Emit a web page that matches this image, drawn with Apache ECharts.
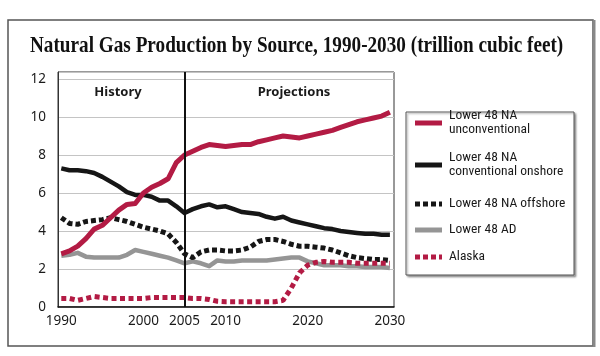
<!DOCTYPE html>
<html><head><meta charset="utf-8">
<script src="https://cdn.jsdelivr.net/npm/echarts@6/dist/echarts.min.js"></script>
<style>html,body{margin:0;padding:0;background:#fff}#c{width:600px;height:356px}</style>
</head><body><div id="c"></div>
<script>
var years = [];
for (var y = 1990; y <= 2030; y++) years.push(y);
var xTickLabels = [1990, 2000, 2005, 2010, 2020, 2030];
var yTickLabels = [0, 2, 4, 6, 8, 10, 12];
var seriesNames = ['Lower 48 NA unconventional','Lower 48 NA conventional onshore','Lower 48 NA offshore','Lower 48 AD','Alaska'];
var unconventional = [2.8,2.95,3.2,3.6,4.1,4.3,4.7,5.1,5.4,5.45,6.0,6.3,6.5,6.75,7.6,8.0,8.2,8.4,8.55,8.5,8.45,8.5,8.55,8.55,8.7,8.8,8.9,9.0,8.95,8.9,9.0,9.1,9.2,9.3,9.45,9.6,9.75,9.85,9.95,10.05,10.25];
var onshore = [7.3,7.2,7.2,7.15,7.05,6.85,6.6,6.35,6.05,5.9,5.9,5.8,5.6,5.6,5.3,4.95,5.15,5.3,5.4,5.25,5.3,5.15,5.0,4.95,4.9,4.75,4.65,4.75,4.55,4.45,4.35,4.25,4.15,4.1,4.0,3.95,3.9,3.85,3.85,3.8,3.8];
var offshore = [4.7,4.4,4.35,4.5,4.55,4.6,4.7,4.6,4.5,4.35,4.2,4.1,4.0,3.85,3.4,2.8,2.6,2.9,3.0,3.0,2.95,2.95,3.0,3.15,3.45,3.55,3.55,3.45,3.3,3.2,3.2,3.15,3.1,3.0,2.85,2.7,2.6,2.55,2.5,2.5,2.45];
var lowerAD = [2.7,2.75,2.85,2.65,2.6,2.6,2.6,2.6,2.75,3.0,2.9,2.8,2.7,2.6,2.45,2.3,2.4,2.3,2.15,2.45,2.4,2.4,2.45,2.45,2.45,2.45,2.5,2.55,2.6,2.6,2.4,2.3,2.2,2.2,2.2,2.15,2.15,2.1,2.1,2.1,2.05];
var alaska = [0.45,0.45,0.35,0.45,0.55,0.5,0.45,0.45,0.45,0.45,0.45,0.5,0.5,0.5,0.5,0.5,0.45,0.45,0.4,0.3,0.28,0.28,0.28,0.28,0.28,0.28,0.28,0.35,1.0,1.8,2.2,2.35,2.4,2.35,2.35,2.35,2.3,2.3,2.3,2.3,2.3];
var splitYear = 2005;

function pairs(vals){ return years.map(function(yr,i){ return [yr, vals[i]]; }); }
var RED = '#b31b44', BLACK = '#161616', GRAY = '#959595';
var FONT = 'Noto Sans';
var LFONT = "'Roboto Condensed', Roboto";
var DOTS = 'path://M0,0h5v5h-5zM8,0h5v5h-5zM16,0h5v5h-5zM24,0h3v5h-3z';

function mkLegend(name, top, twoLine, icon, color){
  return {
    data: [{ name: name, icon: icon, itemStyle: { color: color } }], orient: 'vertical', left: 415, top: top,
    itemWidth: 27, itemHeight: 5, padding: 0, selectedMode: false,
    formatter: function(n){
      if (n === seriesNames[0]) return 'Lower 48 NA\nunconventional';
      if (n === seriesNames[1]) return 'Lower 48 NA\nconventional onshore';
      return n;
    },
    textStyle: { fontFamily: LFONT, fontSize: 13.5, color: '#1a1a1a', lineHeight: 14,
      padding: twoLine ? [14, 0, 0, 2] : [0, 0, 0, 2] }
  };
}

var chart = echarts.init(document.getElementById('c'), null, {renderer: 'canvas'});
chart.setOption({
  animation: false,
  backgroundColor: '#fff',
  grid: { left: 58, top: 72, width: 336, height: 235, show: true, borderColor: '#333', borderWidth: 1, containLabel: false },
  xAxis: {
    type: 'value', min: 1989.6, max: 2030.5,
    axisLine: { show: true, lineStyle: { color: '#111', width: 1.5 } },
    axisTick: { show: false }, splitLine: { show: false },
    axisLabel: { customValues: xTickLabels, fontFamily: FONT, fontSize: 13.5, color: '#1a1a1a', margin: 7,
      formatter: function(v){ return String(v); } }
  },
  yAxis: {
    type: 'value', min: 0, max: 12.37, interval: 2,
    axisLine: { show: true, lineStyle: { color: '#333', width: 1 } },
    axisTick: { show: false },
    splitLine: { show: true, lineStyle: { color: '#c4c4c4', width: 1.2 } },
    axisLabel: { fontFamily: FONT, fontSize: 13.5, color: '#1a1a1a', margin: 12,
      formatter: function(v){ return yTickLabels.indexOf(v) >= 0 ? String(v) : ''; } }
  },
  legend: [
    mkLegend(seriesNames[0], 102, true, 'rect', RED),
    mkLegend(seriesNames[1], 144, true, 'rect', BLACK),
    mkLegend(seriesNames[2], 197, false, DOTS, BLACK),
    mkLegend(seriesNames[3], 223, false, 'rect', GRAY),
    mkLegend(seriesNames[4], 250, false, DOTS, RED)
  ],
  graphic: [
    { type: 'rect', shape: { x: 8, y: 20, width: 585, height: 326 }, style: { fill: 'none', stroke: '#555', lineWidth: 1.5 }, z: 0 },
    { type: 'line', shape: { x1: 594, y1: 20, x2: 594, y2: 347 }, style: { stroke: '#888', lineWidth: 3 }, z: 0 },
    { type: 'rect', shape: { x: 406, y: 112, width: 168, height: 163 }, style: { fill: '#fff', stroke: '#555', lineWidth: 1, shadowColor: 'rgba(0,0,0,0.35)', shadowBlur: 2, shadowOffsetX: 1.5, shadowOffsetY: 1.5 }, z: -1 },
    { type: 'text', left: 30, top: 35, scaleX: 0.835, style: { text: 'Natural Gas Production by Source, 1990-2030 (trillion cubic feet)', fontFamily: 'Liberation Serif', fontWeight: 'bold', fontSize: 23, fill: '#111' } },
    { type: 'text', x: 118, y: 92, style: { text: 'History', fontFamily: FONT, fontWeight: 'bold', fontSize: 13, fill: '#1a1a1a', align: 'center', verticalAlign: 'middle' } },
    { type: 'text', x: 294, y: 92, style: { text: 'Projections', fontFamily: FONT, fontWeight: 'bold', fontSize: 13, fill: '#1a1a1a', align: 'center', verticalAlign: 'middle' } }
  ],
  series: [
    { name: seriesNames[3], type: 'line', data: pairs(lowerAD), symbol: 'none', z: 2,
      lineStyle: { color: GRAY, width: 4.5, join: 'round' }, itemStyle: { color: GRAY } },
    { name: seriesNames[2], type: 'line', data: pairs(offshore), symbol: 'none', z: 3,
      lineStyle: { color: BLACK, width: 5, type: [5, 3], cap: 'butt' }, itemStyle: { color: BLACK } },
    { name: seriesNames[1], type: 'line', data: pairs(onshore), symbol: 'none', z: 3,
      lineStyle: { color: BLACK, width: 4.5, join: 'round' }, itemStyle: { color: BLACK } },
    { name: seriesNames[4], type: 'line', data: pairs(alaska), symbol: 'none', z: 4,
      lineStyle: { color: RED, width: 5, type: [5, 3.5], cap: 'butt' }, itemStyle: { color: RED } },
    { name: seriesNames[0], type: 'line', data: pairs(unconventional), symbol: 'none', z: 4,
      lineStyle: { color: RED, width: 5, join: 'round' }, itemStyle: { color: RED },
      markLine: { silent: true, symbol: ['none', 'none'], label: { show: false },
        lineStyle: { color: '#111', width: 2, type: 'solid' }, data: [{ xAxis: splitYear }] } }
  ]
});
</script></body></html>
